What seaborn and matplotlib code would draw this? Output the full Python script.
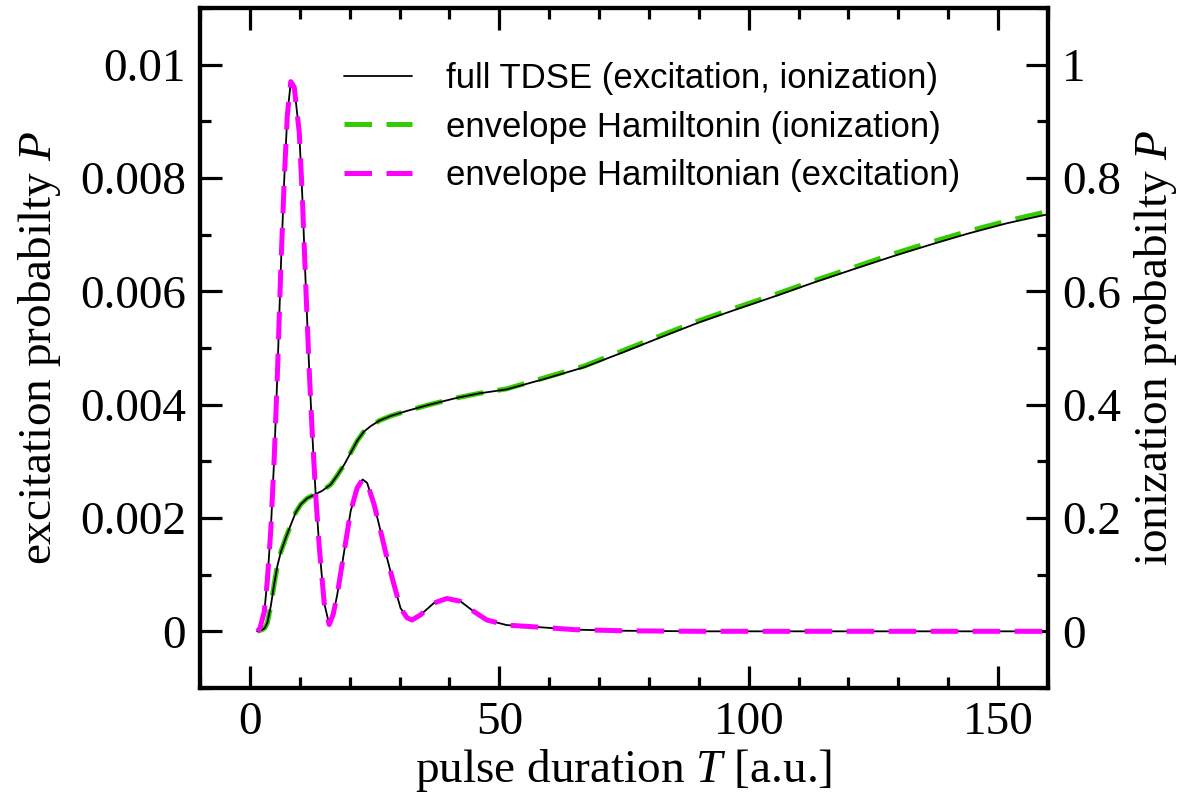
import seaborn as sns
import matplotlib.pyplot as plt
import matplotlib.ticker as ticker
import numpy as np

# values
T_exc = [1.5, 2.0, 2.9, 3.5, 4.2, 4.9, 5.5, 6.2, 6.9, 7.5, 8.2, 8.9, 9.9, 10.5, 11.2,
         11.9, 12.5, 13.2, 13.9, 14.9, 15.9, 16.7, 17.5, 18.9, 20.2, 21.5, 22.6, 23.5,
         24.9, 26.2, 27.5, 28.9, 30.2, 31.5, 32.5, 34.2, 36.9, 39.5, 42.2, 44.9, 47.5,
         51.5, 56.9, 65, 75, 90, 120, 160]
P_exc_tdse = [0, 0.00005, 0.00035, 0.0009, 0.0018, 0.0031, 0.0045, 0.0064, 0.0080,
              0.0091, 0.0097, 0.0096, 0.0088, 0.0077, 0.0061, 0.0046, 0.0035, 0.0024,
              0.0015, 0.0005, 0.00012, 0.0003, 0.00064, 0.00141, 0.00212, 0.00253,
              0.00268, 0.00262, 0.00224, 0.00177, 0.00129, 0.00082, 0.00041, 0.00024,
              0.0002, 0.00029, 0.0005, 0.00058, 0.00053, 0.00035, 0.0002, 0.00011,
              0.00008, 0.00003, 0.00001, 0, 0, 0]
P_exc_env = [0, 0.00005, 0.00035, 0.0009, 0.0018, 0.0031, 0.0045, 0.0064, 0.0080,
             0.0091, 0.0097, 0.0096, 0.0088, 0.0077, 0.0061, 0.0046, 0.0035, 0.0024,
             0.0015, 0.0005, 0.00012, 0.0003, 0.00064, 0.00141, 0.00212, 0.00253,
             0.00268, 0.00262, 0.00224, 0.00177, 0.00129, 0.00082, 0.00041, 0.00024,
             0.0002, 0.00029, 0.0005, 0.00058, 0.00053, 0.00035, 0.0002, 0.00011,
             0.00008, 0.00003, 0.00001, 0, 0, 0]

T_ion = [1.5, 2.5, 3.0, 3.5, 4.2, 4.9, 5.5, 6.2, 7.2, 8.2, 9.2, 10.2, 11.5, 12.9, 14.5,
         16.2, 17.5, 18.9, 20.2, 21.5, 22.8, 24.2, 26, 28.2, 31.5, 36, 41.5, 46, 51.5,
         59.3, 67, 74.7, 82.4, 90, 97.8, 105.5, 113.2, 121, 128.6, 136.3, 144, 151.7,
         160]
P_ion_tdse = [0, 0.003, 0.006, 0.015, 0.045, 0.085, 0.115, 0.14, 0.165, 0.188, 0.21,
              0.224, 0.235, 0.241, 0.248, 0.259, 0.275, 0.294, 0.315, 0.336, 0.352,
              0.362, 0.372, 0.38, 0.389, 0.40, 0.412, 0.42, 0.427, 0.446, 0.466, 0.492,
              0.519, 0.545, 0.569, 0.592, 0.616, 0.639, 0.661, 0.682, 0.702, 0.72, 0.736]
P_ion_env = [0, 0.003, 0.006, 0.015, 0.045, 0.085, 0.115, 0.14, 0.165, 0.188, 0.21,
             0.224, 0.235, 0.241, 0.248, 0.259, 0.275, 0.294, 0.315, 0.336, 0.352,
             0.362, 0.372, 0.38, 0.389, 0.40, 0.412, 0.42, 0.428, 0.448, 0.468, 0.495,
             0.522, 0.548, 0.572, 0.595, 0.619, 0.642, 0.665, 0.686, 0.706, 0.724, 0.741]

sns.set_theme(style="ticks")
plt.rcParams["font.family"] = ["Liberation Serif", "DejaVu Serif"]
plt.rcParams["mathtext.fontset"] = "custom"
plt.rcParams["mathtext.rm"] = "Liberation Serif"
plt.rcParams["mathtext.it"] = "Liberation Serif:italic"
for k in ["text.color", "axes.labelcolor", "axes.edgecolor", "xtick.color", "ytick.color"]:
    plt.rcParams[k] = "black"

fs = 34
green = "#33cc00"
magenta = "#ff00ff"

fig = plt.figure(figsize=(11.84, 8.02), dpi=100)
ax = fig.add_axes([200/1184, 1-688/802, 848/1184, 680/802])
ax2 = ax.twinx()

# ionization on right axis
sns.lineplot(x=T_ion, y=P_ion_tdse, ax=ax2, color="black", lw=1.3, zorder=2)
l_g = sns.lineplot(x=T_ion, y=P_ion_env, ax=ax2, color=green, lw=3.6, zorder=1).lines[-1]
l_g.set_dashes((5.5, 2.9))
# excitation on left axis
sns.lineplot(x=T_exc, y=P_exc_tdse, ax=ax2, color="black", lw=1.3, zorder=3,
             transform=ax.transData)
l_m = sns.lineplot(x=T_exc, y=P_exc_env, ax=ax2, color=magenta, lw=3.6, zorder=4,
                   transform=ax.transData).lines[-1]
l_m.set_dashes((5.5, 2.9))

ax.set_xlim(-10, 160)
ax.set_ylim(-0.001, 0.011)
ax2.set_ylim(-0.1, 1.1)

ax.xaxis.set_major_locator(ticker.MultipleLocator(50))
ax.xaxis.set_minor_locator(ticker.MultipleLocator(10))
ax.yaxis.set_major_locator(ticker.MultipleLocator(0.002))
ax.yaxis.set_minor_locator(ticker.MultipleLocator(0.001))
ax2.yaxis.set_major_locator(ticker.MultipleLocator(0.2))
ax2.yaxis.set_minor_locator(ticker.MultipleLocator(0.1))
fmt = ticker.FuncFormatter(lambda v, p: "%g" % round(v, 6))
ax.yaxis.set_major_formatter(fmt)
ax2.yaxis.set_major_formatter(fmt)

for a in (ax, ax2):
    for s in a.spines.values():
        s.set_linewidth(3)
        s.set_color("black")
    a.tick_params(which="major", direction="in", length=16, width=2.3,
                  labelsize=fs, pad=10, colors="black")
    a.tick_params(which="minor", direction="in", length=8, width=2.3, colors="black")
ax.tick_params(which="both", top=True, right=False)
ax2.tick_params(which="both", left=False, right=True)

ax.set_xlabel("pulse duration $T$ [a.u.]", fontsize=fs, labelpad=2)
ax.set_ylabel("excitation probabilty $P$", fontsize=fs, labelpad=12)
ax2.set_ylabel("ionization probabilty $P$", fontsize=fs, labelpad=8)

h_black = plt.Line2D([], [], color="black", lw=1.3)
h_green = plt.Line2D([], [], color=green, lw=3.6, dashes=(5.5, 2.9))
h_mag = plt.Line2D([], [], color=magenta, lw=3.6, dashes=(5.5, 2.9))
ax2.legend([h_black, h_green, h_mag],
           ["full TDSE (excitation, ionization)",
            "envelope Hamiltonin (ionization)",
            "envelope Hamiltonian (excitation)"],
           loc="upper left", bbox_to_anchor=(344/1184, 1-62/802),
           bbox_transform=fig.transFigure, frameon=False,
           prop={"family": "Liberation Sans", "size": 25},
           handlelength=1.95, handletextpad=1.0, labelspacing=0.45,
           borderpad=0, borderaxespad=0)

fig.savefig("out.png", dpi=100)
